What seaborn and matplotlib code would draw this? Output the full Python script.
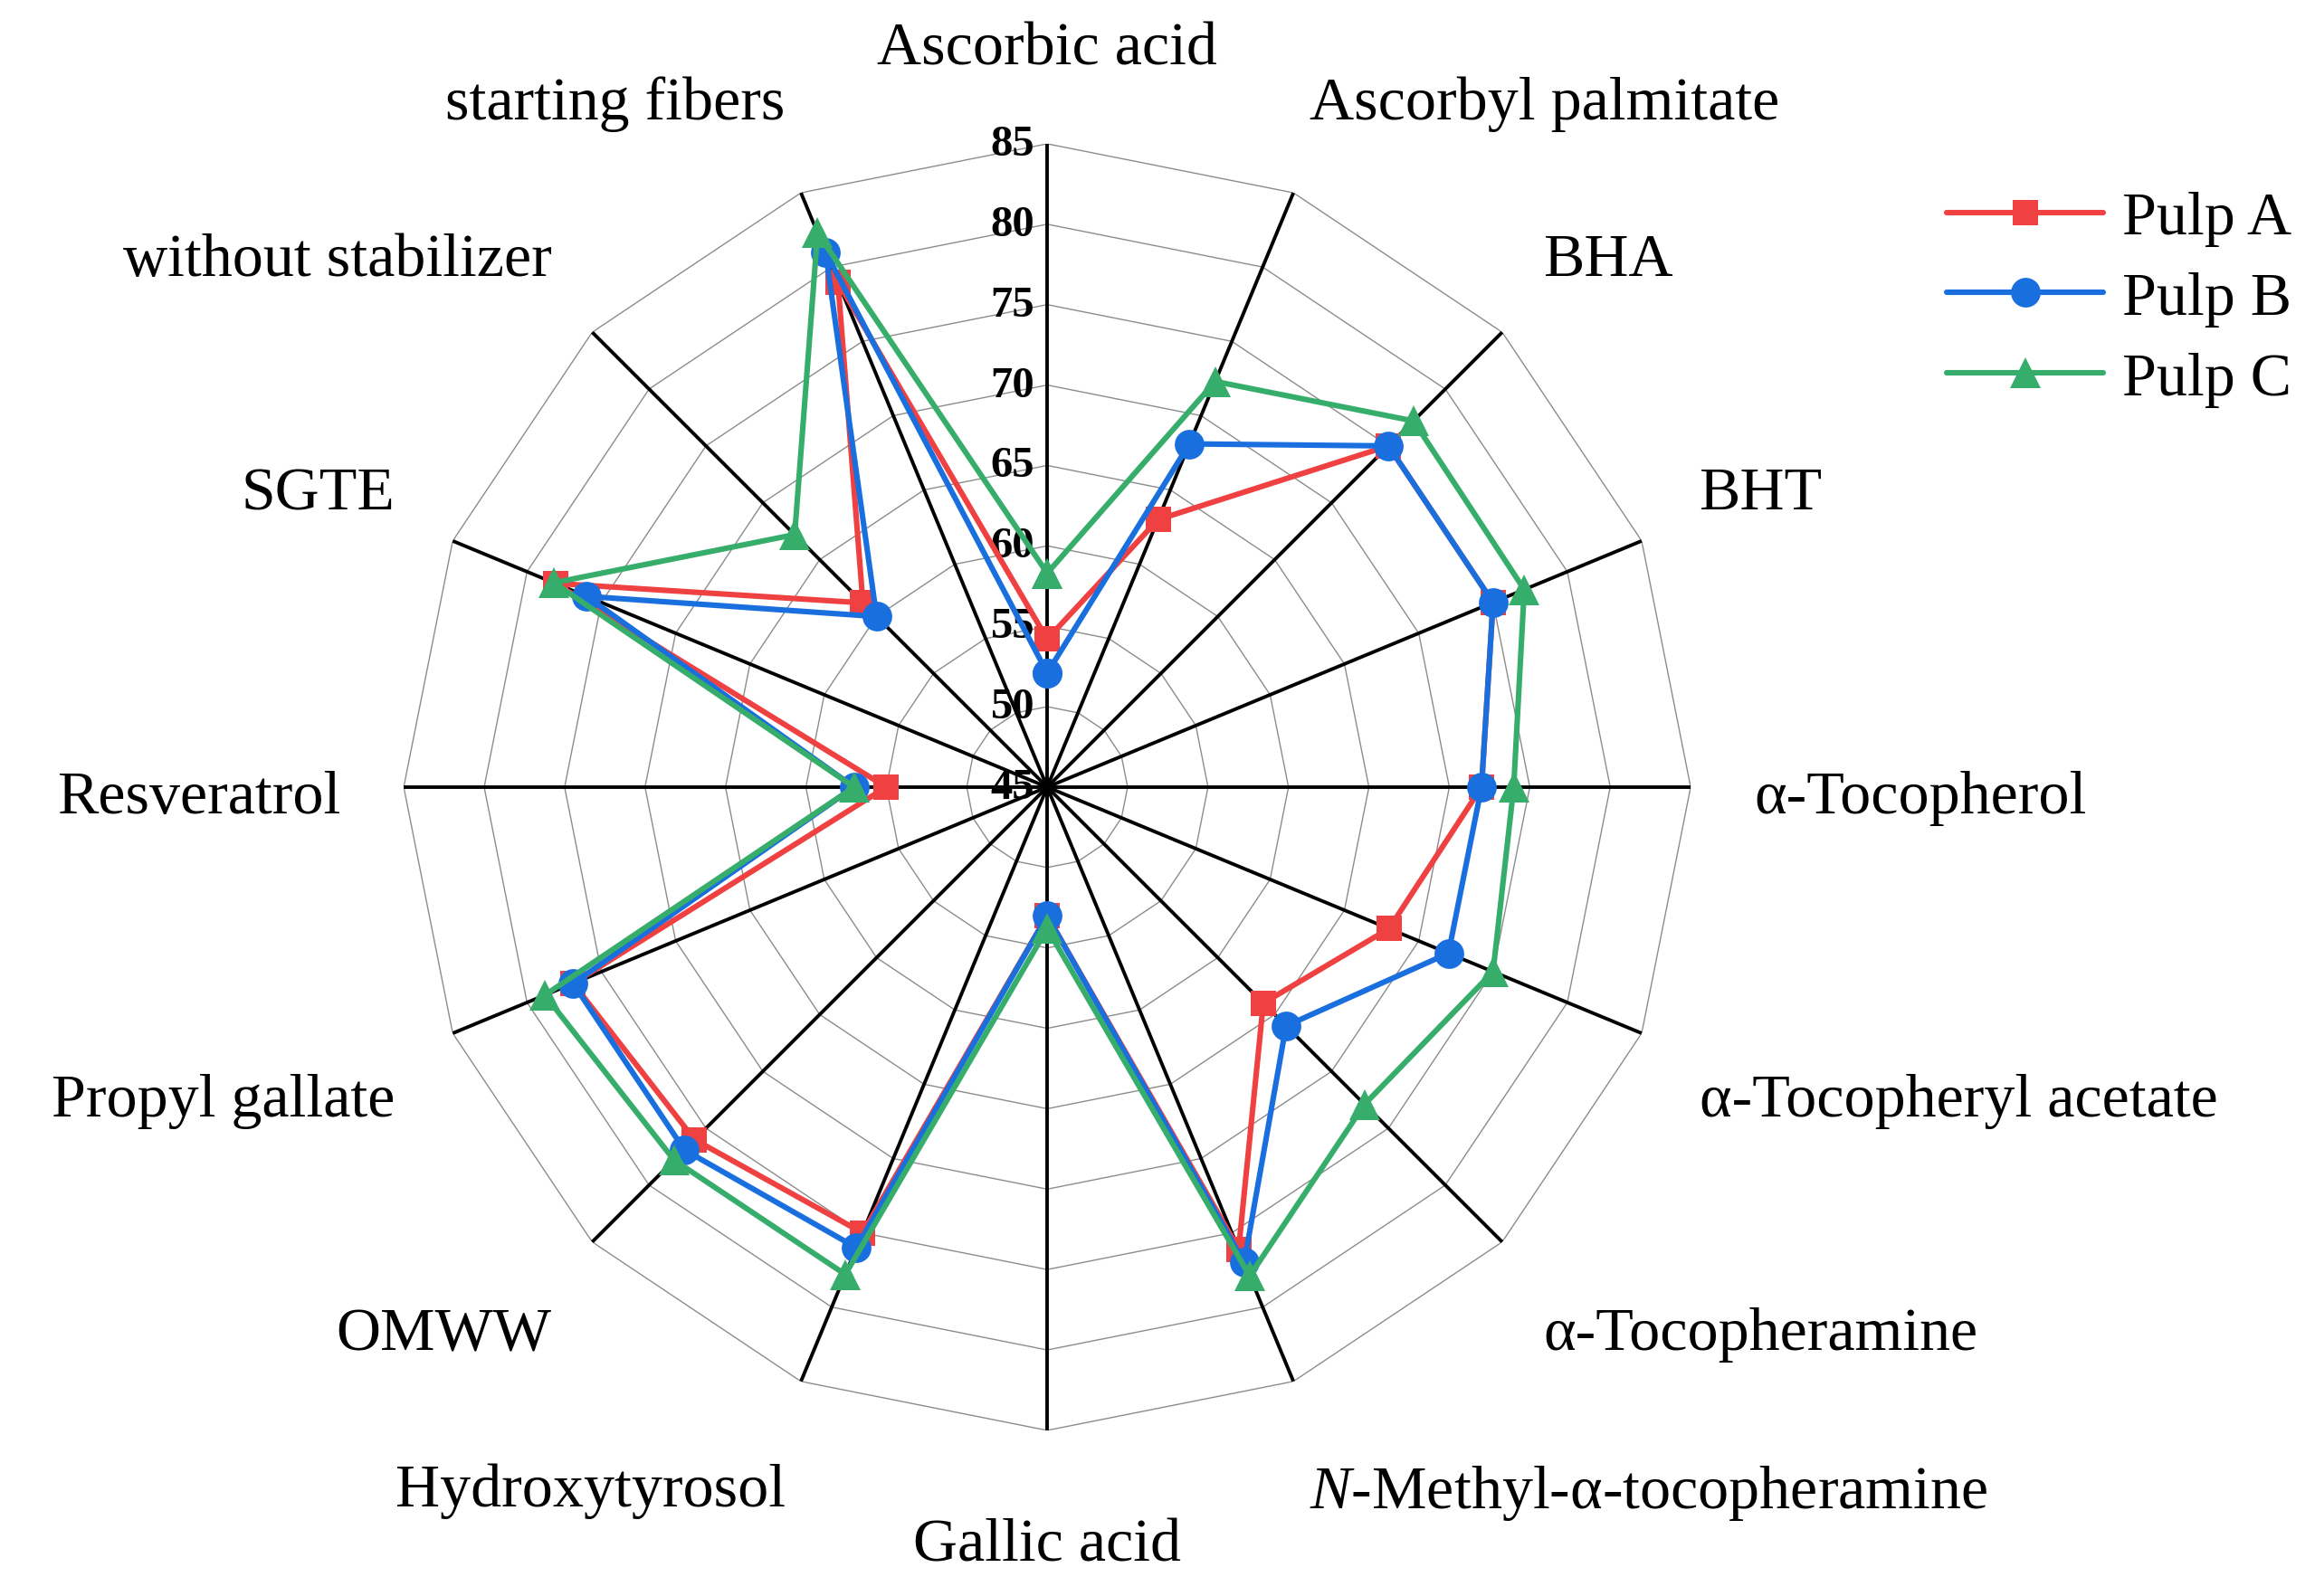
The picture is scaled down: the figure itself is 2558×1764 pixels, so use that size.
import numpy as np
import pandas as pd
import seaborn as sns
import matplotlib.pyplot as plt
from matplotlib.transforms import offset_copy

categories = ["Ascorbic acid", "Ascorbyl palmitate", "BHA", "BHT", "α-Tocopherol",
              "α-Tocopheryl acetate", "α-Tocopheramine", "$\\mathit{N}$-Methyl-α-tocopheramine",
              "Gallic acid", "Hydroxytyrosol", "OMWW", "Propyl gallate", "Resveratrol",
              "SGTE", "without stabilizer", "starting fibers"]
pulp_a = [54.2, 63.0, 75.0, 75.0, 72.0, 68.0, 64.0, 76.1, 53.0, 75.0, 76.0, 76.9, 55.0, 78.1, 61.2, 79.0]
pulp_b = [52.1, 68.1, 75.0, 75.0, 72.0, 72.0, 66.0, 77.0, 53.0, 76.0, 76.9, 76.9, 57.0, 76.0, 60.0, 81.0]
pulp_c = [58.3, 72.3, 77.2, 77.1, 74.0, 75.0, 72.9, 77.9, 53.8, 77.8, 77.8, 78.8, 57.0, 78.2, 67.2, 82.3]
r_ticks = [45, 50, 55, 60, 65, 70, 75, 80, 85]

series = {"Pulp A": pulp_a, "Pulp B": pulp_b, "Pulp C": pulp_c}
colors = {"Pulp A": "#EF4141", "Pulp B": "#1A6FDF", "Pulp C": "#37AD6B"}
markers = {"Pulp A": "s", "Pulp B": "o", "Pulp C": "^"}
msizes = {"Pulp A": 10.3, "Pulp B": 11.8, "Pulp C": 12.5}

sns.set_style("white")
plt.rcParams["font.family"] = ["Liberation Serif", "DejaVu Serif"]
plt.rcParams["text.color"] = "black"
plt.rcParams["mathtext.fontset"] = "custom"
plt.rcParams["mathtext.rm"] = "Liberation Serif"
plt.rcParams["mathtext.it"] = "Liberation Serif:italic"

n = len(categories)
angles = np.linspace(0, 2 * np.pi, n, endpoint=False)

fig = plt.figure(figsize=(12.79, 8.825), dpi=200)
ax = fig.add_axes([0.1744, 0.1037, 0.5559, 0.8057], projection="polar")
ax.set_theta_zero_location("N")
ax.set_theta_direction(-1)

# polygon grid + spokes
ring_theta = np.append(angles, angles[0])
for t in r_ticks[1:]:
    ax.plot(ring_theta, [t] * (n + 1), color="#8c8c8c", lw=0.5, zorder=1)
for a in angles:
    ax.plot([a, a], [r_ticks[0], r_ticks[-1]], color="black", lw=1.4, zorder=2)

# radial tick labels along the top spoke
trans = offset_copy(ax.transData, fig=fig, x=-5, y=0, units="points")
for t in r_ticks:
    ax.text(0, t, str(t), transform=trans, ha="right", va="center",
            fontsize=17.5, fontweight="bold", color="black", zorder=1.5)

# category labels
for a, lab in zip(angles, categories):
    s, c = np.sin(a), np.cos(a)
    ha = "left" if s > 0.01 else ("right" if s < -0.01 else "center")
    va = "bottom" if c > 0.01 else ("top" if c < -0.01 else "center")
    dx = -5.5 if s > 0.01 else (5.5 if s < -0.01 else 0)
    tr = offset_copy(ax.transData, fig=fig, x=dx, y=-4, units="points")
    ax.text(a, 89.8, lab, ha=ha, va=va, fontsize=24.5, color="black", transform=tr)

for name, vals in series.items():
    df = pd.DataFrame({"angle": np.append(angles, 2 * np.pi), "value": vals + vals[:1]})
    sns.lineplot(data=df, x="angle", y="value", sort=False, estimator=None,
                 color=colors[name], marker=markers[name], markersize=msizes[name],
                 markeredgewidth=0, linewidth=2.2, label=name, ax=ax, zorder=3)

ax.set_ylim(45, 85)
ax.grid(False)
ax.set_xticks([])
ax.set_yticks([])
ax.set_xlabel("")
ax.set_ylabel("")
ax.spines["polar"].set_visible(False)

handles, labels = ax.get_legend_handles_labels()
ax.get_legend().remove()
fig.legend(handles, labels, loc="upper left", bbox_to_anchor=(0.8408, 0.88),
           frameon=False, fontsize=24.5, handlelength=2.55, handletextpad=0.3,
           labelspacing=0.4, borderpad=0, borderaxespad=0, labelcolor="black")

fig.savefig("out.png", dpi=200, facecolor="white")
